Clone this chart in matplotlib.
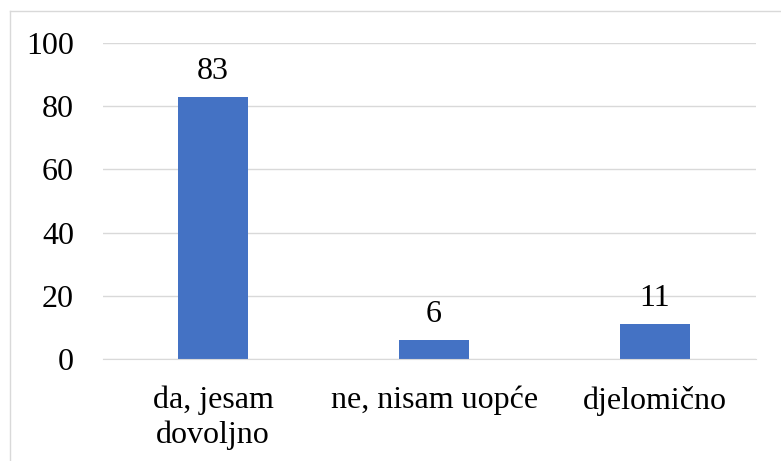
import matplotlib
matplotlib.use('Agg')
from matplotlib import pyplot as plt
from matplotlib.lines import Line2D

categories = ['da, jesam\ndovoljno', 'ne, nisam uopće', 'djelomično']
values = [83, 6, 11]
yticks = [0, 20, 40, 60, 80, 100]

plt.rcParams['font.family'] = ['Liberation Serif', 'DejaVu Serif']

fig = plt.figure(figsize=(7.81, 4.61), dpi=100)
ax = fig.add_axes([0.132, 0.221, 0.836, 0.686])

x = range(len(categories))
ax.bar(x, values, width=0.32, color='#4472C4', zorder=3)
for xi, v in zip(x, values):
    ax.annotate(str(v), (xi, v), xytext=(0, 8), textcoords='offset points',
                ha='center', va='bottom', fontsize=23, color='#000000')

ax.set_xlim(-0.498, 2.457)
ax.set_ylim(0, 100)
ax.set_yticks(yticks)
ax.set_xticks(list(x))
ax.set_xticklabels(categories, fontsize=23, linespacing=1.25)
ax.tick_params(axis='y', labelsize=23, length=0, pad=21)
ax.tick_params(axis='x', length=0, pad=19)
ax.grid(axis='y', color='#D9D9D9', linewidth=1, zorder=0)

for s in ['top', 'right', 'left']:
    ax.spines[s].set_visible(False)
ax.spines['bottom'].set_color('#D9D9D9')
ax.spines['bottom'].set_zorder(4)

# chart area border, cut off at right and bottom
bx = 9.5 / 781
by = 1 - 11.5 / 461
fig.add_artist(Line2D([bx, 1], [by, by], transform=fig.transFigure, color='#D9D9D9', lw=1))
fig.add_artist(Line2D([bx, bx], [0, by], transform=fig.transFigure, color='#D9D9D9', lw=1))

fig.savefig('out.png', dpi=100)
